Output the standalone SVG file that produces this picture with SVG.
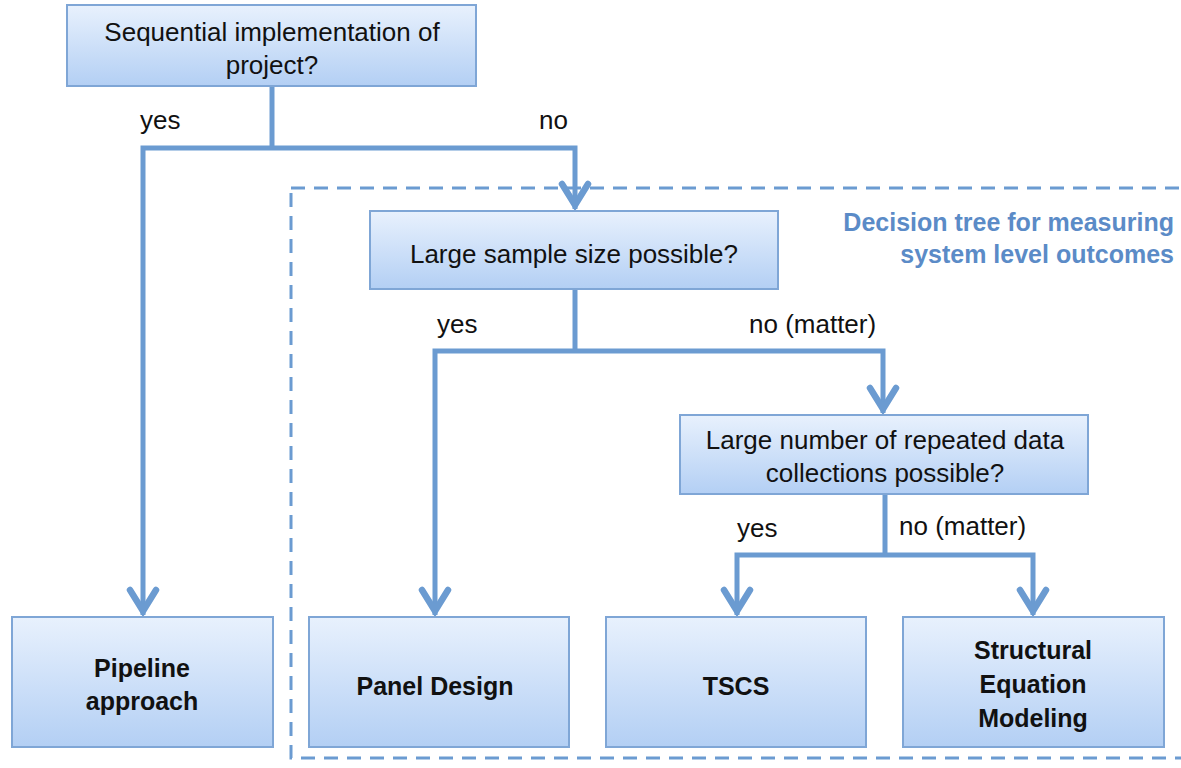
<svg xmlns="http://www.w3.org/2000/svg" width="1181" height="768" viewBox="0 0 1181 768">
  <defs>
    <linearGradient id="boxFill" x1="0" y1="0" x2="0" y2="1">
      <stop offset="0" stop-color="#e8f1fd"/>
      <stop offset="1" stop-color="#b3cff4"/>
    </linearGradient>
    <!-- open chevron head, tip lands on the end of the line -->
    <marker id="chevron" markerUnits="userSpaceOnUse" markerWidth="40" markerHeight="34" refX="34" refY="17" orient="auto" viewBox="0 0 40 34">
      <polyline points="9,4 30,17 9,30" fill="none" stroke="#6b9bd1" stroke-width="6.5" stroke-linecap="round" stroke-linejoin="miter"/>
    </marker>
    <style>
      .box { fill: url(#boxFill); stroke: #7fa6d6; stroke-width: 2; }
      .q { font-family: "Liberation Sans", Arial, sans-serif; font-size: 26px; fill: #111; text-anchor: middle; }
      .leaf { font-family: "Liberation Sans", Arial, sans-serif; font-size: 25px; font-weight: bold; fill: #111; text-anchor: middle; }
      .lbl { font-family: "Liberation Sans", Arial, sans-serif; font-size: 26px; fill: #111; }
      .wire { fill: none; stroke: #6b9bd1; stroke-width: 5; stroke-linejoin: miter; }
      .arrow { marker-end: url(#chevron); }
      .frame { fill: none; stroke: #6b9bd1; stroke-width: 3; stroke-dasharray: 14 9; }
      .title { font-family: "Liberation Sans", Arial, sans-serif; font-size: 25px; font-weight: bold; fill: #5b8bc7; text-anchor: end; }
    </style>
  </defs>

  <rect width="1181" height="768" fill="#ffffff"/>

  <!-- dashed region around the system-level part of the tree -->
  <g id="region">
    <rect class="frame" x="291" y="188" width="900" height="570"/>
    <text class="title" x="1174" y="231">Decision tree for measuring</text>
    <text class="title" x="1174" y="263">system level outcomes</text>
  </g>

  <!-- connectors -->
  <g id="connectors">
    <path class="wire" d="M272,87 V148"/>
    <path class="wire arrow" d="M272,148 H143 V615"/>
    <path class="wire arrow" d="M272,148 H575 V209"/>
    <path class="wire" d="M575,290 V351"/>
    <path class="wire arrow" d="M575,351 H435 V615"/>
    <path class="wire arrow" d="M575,351 H883 V413"/>
    <path class="wire" d="M885,495 V555"/>
    <path class="wire arrow" d="M885,555 H737 V615"/>
    <path class="wire arrow" d="M885,555 H1033 V615"/>
    <text class="lbl" x="140" y="129">yes</text>
    <text class="lbl" x="539" y="129">no</text>
    <text class="lbl" x="437" y="333">yes</text>
    <text class="lbl" x="749" y="333">no (matter)</text>
    <text class="lbl" x="737" y="537">yes</text>
    <text class="lbl" x="899" y="535">no (matter)</text>
  </g>

  <g id="q-sequential">
    <rect class="box" x="67" y="5" width="409" height="81"/>
    <text class="q" x="272" y="41">Sequential implementation of</text>
    <text class="q" x="272" y="74">project?</text>
  </g>

  <g id="q-sample">
    <rect class="box" x="370" y="211" width="408" height="78"/>
    <text class="q" x="574" y="263">Large sample size possible?</text>
  </g>

  <g id="q-repeated">
    <rect class="box" x="680" y="415" width="408" height="79"/>
    <text class="q" x="885" y="449">Large number of repeated data</text>
    <text class="q" x="885" y="482">collections possible?</text>
  </g>

  <g id="pipeline">
    <rect class="box" x="12" y="617" width="261" height="130"/>
    <text class="leaf" x="142" y="677">Pipeline</text>
    <text class="leaf" x="142" y="710">approach</text>
  </g>

  <g id="panel">
    <rect class="box" x="309" y="617" width="260" height="130"/>
    <text class="leaf" x="435" y="695">Panel Design</text>
  </g>

  <g id="tscs">
    <rect class="box" x="606" y="617" width="260" height="130"/>
    <text class="leaf" x="736" y="695">TSCS</text>
  </g>

  <g id="sem">
    <rect class="box" x="903" y="617" width="261" height="130"/>
    <text class="leaf" x="1033" y="659">Structural</text>
    <text class="leaf" x="1033" y="693">Equation</text>
    <text class="leaf" x="1033" y="727">Modeling</text>
  </g>
</svg>
